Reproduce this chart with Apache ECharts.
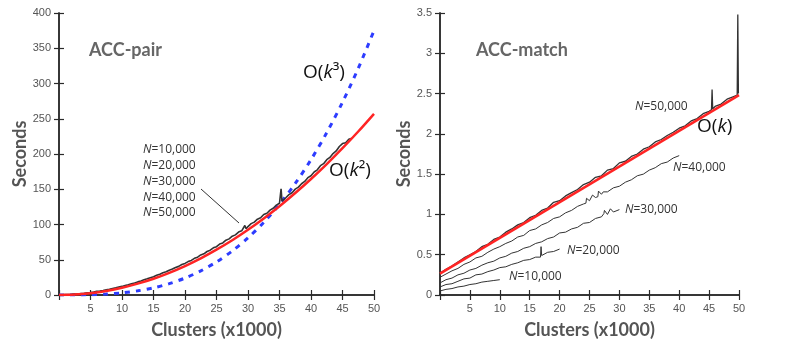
<!DOCTYPE html>
<html>
<head>
<meta charset="utf-8">
<script src="https://cdn.jsdelivr.net/npm/echarts@6/dist/echarts.min.js"></script>
<style>
  html, body { margin: 0; padding: 0; background: #fff; }
  #main { width: 790px; height: 357px; }
</style>
</head>
<body>
<div id="main"></div>
<script>
// ticks
var clusterTicks = [0, 5, 10, 15, 20, 25, 30, 35, 40, 45, 50];
var pairTicks = [0, 50, 100, 150, 200, 250, 300, 350, 400];
var matchTicks = [0, 0.5, 1, 1.5, 2, 2.5, 3, 3.5];

// ACC-pair: measured time (all N overlap), [clusters x1000, seconds]
var pairMeasured = [[0.5,0.3],[1,0.5],[1.5,0.7],[2,0.9],[2.5,1.3],[3,1.5],[3.5,2.0],[4,2.4],[4.5,3.1],[5,3.6],
  [5.5,4.2],[6,5.1],[6.5,5.7],[7,6.5],[7.5,7.4],[8,8.2],[8.5,9.3],[9,10.1],[9.5,11.2],[10,12.2],
  [10.5,13.4],[11,14.6],[11.5,15.9],[12,17.1],[12.5,18.6],[13,19.8],[13.5,21.5],[14,22.9],[14.5,24.6],[15,26.0],
  [15.5,27.9],[16,29.4],[16.5,31.5],[17,32.9],[17.5,35.2],[18,36.8],[18.5,39.1],[19,40.6],[19.5,43.2],[20,44.8],
  [20.5,47.4],[21,49.1],[21.5,52.0],[22,53.7],[22.5,56.8],[23,58.4],[23.5,61.7],[24,63.5],[24.5,66.9],[25,68.6],
  [25.5,72.3],[26,73.9],[26.5,77.8],[27,79.6],[27.5,83.4],[28,85.3],[28.5,89.2],[29,91.0],[29.5,98.6],[29.7,94.0],
  [30,97.1],[30.5,101.2],[31,103.4],[31.5,107.6],[32,109.5],[32.5,114.2],[33,116.0],[33.5,120.3],[34,123.1],[34.5,127.4],
  [35,130.2],[35.25,150.5],[35.4,133.0],[35.5,134.6],[36,137.9],[36.5,142.3],[37,145.1],[37.5,150.2],[38,153.0],[38.5,157.8],
  [39,161.1],[39.5,166.4],[40,169.2],[40.5,174.5],[41,177.6],[41.5,183.4],[42,186.3],[42.5,191.9],[43,195.2],[43.5,200.7],
  [44,204.3],[44.5,210.6],[45,214.8],[45.5,216.0],[46,220.9],[46.5,222.4]];
// ACC-pair reference curves, O(k^2) and O(k^3)
var pairK2 = [[0,0],[2.5,0.6],[5,2.6],[7.5,5.8],[10,10.3],[12.5,16.1],[15,23.1],[17.5,31.5],[20,41.1],[22.5,52.0],
  [25,64.3],[27.5,77.7],[30,92.5],[32.5,108.6],[35,125.9],[37.5,144.6],[40,164.5],[42.5,185.7],[45,208.2],[47.5,231.9],[50,257]];
var pairK3 = [[0,0],[2.5,0.05],[5,0.4],[7.5,1.3],[10,3],[12.5,5.9],[15,10.1],[17.5,16.1],[20,24],[22.5,34.2],
  [25,46.9],[27.5,62.4],[30,81],[32.5,103],[35,128.6],[37.5,158.2],[40,192],[42.5,230.3],[45,273.4],[47.5,321.5],[50,375]];

// ACC-match: seconds at clusters = 0,1,2,... (x1000)
var match50 = [0.27,0.32,0.36,0.41,0.46,0.50,0.54,0.60,0.63,0.69,0.72,0.78,0.82,0.87,0.90,0.96,0.99,1.05,1.08,1.15,
  1.17,1.23,1.27,1.31,1.37,1.40,1.46,1.48,1.55,1.57,1.64,1.66,1.72,1.75,1.81,1.84,1.90,1.93,1.98,2.02,
  2.07,2.10,2.16,2.19,2.25,2.28,2.34,2.37,2.43,2.46,2.50];
var match40 = [0.22,0.26,0.30,0.33,0.38,0.41,0.46,0.48,0.53,0.57,0.60,0.64,0.67,0.72,0.74,0.80,0.82,0.87,0.90,0.95,
  0.97,1.02,1.05,1.10,1.13,1.17,1.21,1.25,1.28,1.33,1.35,1.40,1.43,1.48,1.50,1.55,1.58,1.63,1.65,1.70,1.73];
var match30 = [0.15,0.19,0.21,0.25,0.27,0.31,0.33,0.37,0.40,0.42,0.46,0.48,0.52,0.54,0.58,0.60,0.64,0.66,0.70,0.72,
  0.77,0.78,0.82,0.84,0.89,0.90,0.95,0.97,1.00,1.03,1.06];
var match20 = [0.10,0.13,0.14,0.17,0.20,0.21,0.25,0.26,0.29,0.31,0.34,0.35,0.38,0.40,0.43,0.44,0.47,0.49,0.53,0.54,0.57];
var match10 = [0.05,0.07,0.08,0.10,0.11,0.13,0.14,0.16,0.17,0.18,0.19];
// spikes between the sample points
var match50Spikes = [[45.4,2.30],[45.5,2.55],[45.6,2.31],[49.7,2.48],[49.8,3.48],[49.9,2.50]];
var match40Spikes = [[24.4,1.14],[24.5,1.20],[25.5,1.24],[26.4,1.22],[26.5,1.29],[27.3,1.28]];
var match30Spikes = [[27.4,1.01],[27.5,1.05],[28.5,1.07]];
var match20Spikes = [[16.8,0.47],[16.9,0.60],[17.1,0.50]];
var matchK = [[0,0.265],[50,2.48]];

function withSpikes(vals, spikes) {
  var pts = vals.map(function (v, i) { return [i, v]; }).concat(spikes || []);
  pts.sort(function (a, b) { return a[0] - b[0]; });
  return pts;
}

var chart = echarts.init(document.getElementById('main'));
var grey = '#555';
var axisCol = '#2a2a2a';

function xAxes(gi) {
  var base = {
    type: 'value', gridIndex: gi,
    min: clusterTicks[0], max: clusterTicks[clusterTicks.length - 1], interval: clusterTicks[1] - clusterTicks[0],
    splitLine: { show: false },
    axisLine: { lineStyle: { color: axisCol, width: 1.5 } },
    axisTick: { inside: true, length: 5, lineStyle: { color: axisCol, width: 1.2 } }
  };
  var bottom = echarts.util.merge({
    position: 'bottom',
    axisLabel: { color: grey, fontSize: 11, fontFamily: 'Liberation Sans', margin: 8,
      formatter: function (v) { return v === 0 ? '' : v; } },
    name: 'Clusters (x1000)', nameLocation: 'middle', nameGap: 26,
    nameTextStyle: { color: grey, fontSize: 18, fontWeight: 'bold', fontFamily: 'Lato' }
  }, base, true);
  var top = echarts.util.merge({ position: 'top', axisLabel: { show: false } }, base, true);
  return [bottom, top];
}
function yAxes(gi, ticks, gap) {
  var base = {
    type: 'value', gridIndex: gi,
    min: ticks[0], max: ticks[ticks.length - 1], interval: ticks[1] - ticks[0],
    splitLine: { show: false },
    axisLine: { lineStyle: { color: axisCol, width: 1.5 } },
    axisTick: { inside: true, length: 5, lineStyle: { color: axisCol, width: 1.2 } }
  };
  var left = echarts.util.merge({
    position: 'left',
    axisLabel: { color: grey, fontSize: 11, fontFamily: 'Liberation Sans', margin: 8 },
    name: 'Seconds', nameLocation: 'middle', nameGap: gap, nameRotate: 90,
    nameTextStyle: { color: grey, fontSize: 18, fontWeight: 'bold', fontFamily: 'Lato' }
  }, base, true);
  var right = echarts.util.merge({ position: 'right', axisLabel: { show: false } }, base, true);
  return [left, right];
}

function dataLine(xi, yi, data, w) {
  return { type: 'line', xAxisIndex: xi, yAxisIndex: yi, data: data, symbol: 'none',
    lineStyle: { color: '#333', width: w || 1 }, z: 2 };
}

function nLabel(text, x, y) {
  return { type: 'text', left: x, top: y,
    style: { text: '{i|N}{n|=' + text + '}', rich: {
      i: { fontSize: 12, fontFamily: 'Open Sans', fontStyle: 'italic', fill: '#333' },
      n: { fontSize: 12, fontFamily: 'Open Sans', fill: '#333' } } } };
}
function bigO(power, x, y) {
  var t = '{n|O(}{i|k}' + (power ? '{s|' + power + '}' : '') + '{n|)}';
  return { type: 'text', left: x, top: y,
    style: { text: t, rich: {
      n: { fontSize: 19, fontFamily: 'Open Sans', fill: '#111' },
      i: { fontSize: 19, fontFamily: 'Open Sans', fontStyle: 'italic', fill: '#111' },
      s: { fontSize: 19, fontFamily: 'Open Sans', fill: '#111' } } } };
}

var xa0 = xAxes(0), xa1 = xAxes(1);
var ya0 = yAxes(0, pairTicks, 27), ya1 = yAxes(1, matchTicks, 22);

var option = {
  animation: false,
  backgroundColor: '#fff',
  title: [
    { text: 'ACC-pair', left: 84, top: 36, textStyle: { color: '#666', fontSize: 18, fontWeight: 'bold', fontFamily: 'Lato' } },
    { text: 'ACC-match', left: 471, top: 36, textStyle: { color: '#666', fontSize: 18, fontWeight: 'bold', fontFamily: 'Lato' } }
  ],
  grid: [
    { left: 59, top: 13, width: 315, height: 282 },
    { left: 440, top: 13, width: 299, height: 282 }
  ],
  xAxis: [xa0[0], xa0[1], xa1[0], xa1[1]],
  yAxis: [ya0[0], ya0[1], ya1[0], ya1[1]],
  series: [
    { type: 'line', xAxisIndex: 0, yAxisIndex: 0, data: pairK3, smooth: 0.3, symbol: 'none',
      lineStyle: { color: '#2d3cff', width: 3, type: [5, 6] }, z: 1 },
    dataLine(0, 0, pairMeasured, 1.6),
    { type: 'line', xAxisIndex: 0, yAxisIndex: 0, data: pairK2, smooth: 0.3, symbol: 'none',
      lineStyle: { color: '#ff2424', width: 2.5 }, z: 3 },
    dataLine(2, 2, withSpikes(match10)),
    dataLine(2, 2, withSpikes(match20, match20Spikes)),
    dataLine(2, 2, withSpikes(match30, match30Spikes)),
    dataLine(2, 2, withSpikes(match40, match40Spikes)),
    dataLine(2, 2, withSpikes(match50, match50Spikes), 1.3),
    { type: 'line', xAxisIndex: 2, yAxisIndex: 2, data: matchK, symbol: 'none',
      lineStyle: { color: '#ff2424', width: 2.5 }, z: 3 }
  ],
  graphic: [
    nLabel('10,000', 143, 144),
    nLabel('20,000', 143, 160),
    nLabel('30,000', 143, 176),
    nLabel('40,000', 143, 192),
    nLabel('50,000', 143, 207),
    { type: 'line', shape: { x1: 201, y1: 189, x2: 239, y2: 223 }, style: { stroke: '#333', lineWidth: 1 } },
    bigO('\u00b3', 303, 63),
    bigO('\u00b2', 329, 161),
    bigO('', 697, 117),
    nLabel('50,000', 635, 101),
    nLabel('40,000', 673, 162),
    nLabel('30,000', 625, 204),
    nLabel('20,000', 567, 245),
    nLabel('10,000', 509, 271)
  ]
};
chart.setOption(option);
</script>
</body>
</html>
